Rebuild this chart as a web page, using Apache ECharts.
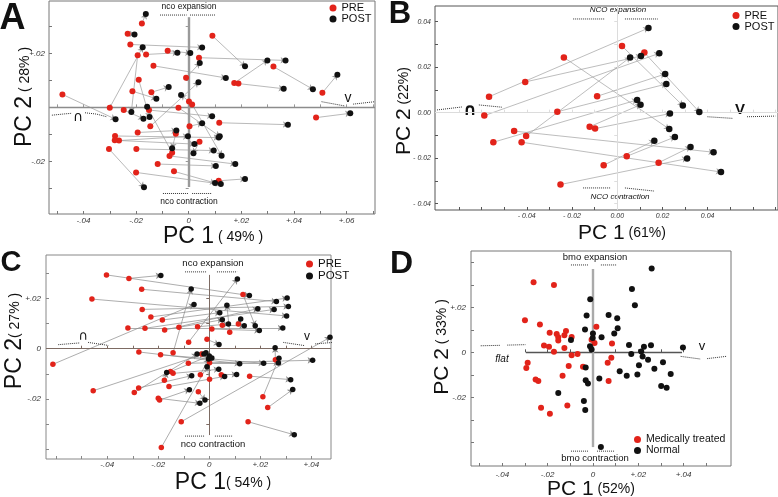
<!DOCTYPE html>
<html><head><meta charset="utf-8">
<script src="https://cdn.jsdelivr.net/npm/echarts@6/dist/echarts.min.js"></script>
<style>html,body{margin:0;padding:0;background:#fff}#c{width:778px;height:497px}</style>
</head><body><div id="c"></div>
<script>
const FONT = "'Liberation Sans', Arial, Helvetica, sans-serif";
const RED = '#e2231a', BLACK = '#111111';

// ---------- Panel A (PC1 49%, PC2 28%) ----------
const preA = [[-0.0480,0.0048],[0.0090,0.0265],[-0.0222,0.0233],[-0.0162,0.0196],[-0.0080,0.0210],[0.0039,0.0184],[0.0173,0.0090],[0.0189,0.0088],[-0.0134,0.0154],[0.0322,0.0151],[0.0508,0.0054],[0.0484,-0.0038],[0.0116,-0.0057],[-0.0142,0.0056],[-0.0010,0.0110],[0.0013,0.0011],[-0.0300,-0.0001],[-0.0247,-0.0010],[-0.0151,-0.0010],[-0.0039,-0.0001],[0.0003,-0.0070],[-0.0194,-0.0093],[-0.0280,-0.0106],[-0.0265,-0.0123],[-0.0281,-0.0122],[-0.0049,-0.0098],[0.0041,-0.0127],[-0.0199,-0.0154],[-0.0303,-0.0154],[-0.0073,-0.0180],[-0.0118,-0.0210],[-0.0056,-0.0237],[0.0114,-0.0272],[-0.0200,-0.0241],[-0.0178,0.0311],[-0.0232,0.0273],[-0.0194,0.0193],[-0.0190,0.0102],[-0.0214,0.0060],[0.0001,0.0022],[-0.0146,-0.0070],[-0.0063,-0.0168]];
const postA = [[-0.0278,-0.0044],[0.0214,0.0152],[0.0051,0.0222],[-0.0043,0.0202],[0.0006,0.0201],[0.0368,0.0174],[0.0299,0.0174],[0.0361,0.0069],[0.0141,0.0109],[0.0472,0.0067],[0.0565,0.0121],[0.0614,-0.0022],[0.0377,-0.0064],[-0.0076,0.0075],[0.0042,0.0164],[0.0125,-0.0179],[-0.0175,0.0223],[-0.0172,-0.0042],[0.0089,-0.0033],[0.0118,-0.0107],[0.0051,-0.0059],[-0.0047,-0.0086],[0.0114,-0.0112],[-0.0003,-0.0107],[0.0022,-0.0136],[-0.0063,-0.0151],[0.0018,-0.0170],[0.0095,-0.0160],[-0.0170,-0.0296],[0.0177,-0.0210],[0.0103,-0.0217],[0.0100,-0.0280],[0.0214,-0.0265],[0.0122,-0.0284],[-0.0163,0.0346],[-0.0206,0.0270],[-0.0218,-0.0017],[-0.0149,-0.0036],[-0.0123,0.0032],[-0.0029,0.0046],[0.0037,0.0093],[-0.0158,0.0002]];
const xLabValsA = [-0.04,-0.02,0,0.02,0.04,0.06];
const xLabA = ['-.04','-.02','0','+.02','+.04','+.06'];
const yLabValsA = [-0.02,0.02];
const yLabA = ['-.02','+.02'];
const xTicksA = [-0.05,-0.04,-0.03,-0.02,-0.01,0,0.01,0.02,0.03,0.04,0.05,0.06,0.07];
const yTicksA = [-0.03,-0.02,-0.01,0,0.01,0.02,0.03];
const decoA = [
  [[-0.0109,0.0342],[-0.0008,0.0342]], [[0.0005,0.0342],[0.0100,0.0342]],
  [[-0.0098,-0.0319],[-0.0003,-0.0319]], [[0.0013,-0.0319],[0.0088,-0.0319]],
  [[-0.0520,-0.0029],[-0.0470,-0.0024],[-0.0444,-0.0022]], [[-0.0394,-0.0020],[-0.0350,-0.0025],[-0.0311,-0.0035]],
  [[0.0505,0.0021],[0.0594,0.0005]], [[0.0625,0.0012],[0.0708,0.0021]]
];

// ---------- Panel B (PC1 61%, PC2 22%) ----------
const preB = [[-0.0567,0.0070],[-0.0407,0.0135],[-0.0588,-0.0013],[-0.0265,0.0004],[-0.0089,0.0072],[-0.0403,-0.0103],[-0.0236,0.0243],[0.0021,0.0293],[0.0120,0.0264],[-0.0548,-0.0130],[-0.0122,-0.0062],[-0.0098,-0.0070],[-0.0456,-0.0081],[-0.0423,-0.0130],[-0.0060,-0.0231],[0.0042,-0.0192],[-0.0251,-0.0316],[0.0183,-0.0220]];
const postB = [[0.0138,0.0372],[0.0105,0.0249],[0.0186,0.0261],[0.0217,0.0126],[0.0212,0.0170],[0.0057,0.0243],[0.0230,-0.0072],[0.0290,0.0031],[0.0363,0.0003],[0.0088,0.0056],[0.0103,0.0035],[0.0233,-0.0004],[0.0426,-0.0174],[0.0459,-0.0261],[0.0164,-0.0123],[0.0255,-0.0107],[0.0309,-0.0202],[0.0324,-0.0151]];
const xLabValsB = [-0.04,-0.02,0,0.02,0.04];
const xLabB = ['- 0.04','- 0.02','0.00','0.02','0.04'];
const yLabValsB = [-0.04,-0.02,0,0.02,0.04];
const yLabB = ['- 0.04','- 0.02','0.00','0.02','0.04'];
const xTicksB = [-0.07,-0.06,-0.05,-0.04,-0.03,-0.02,-0.01,0,0.01,0.02,0.03,0.04,0.05,0.06,0.07];
const yTicksB = [-0.04,-0.03,-0.02,-0.01,0,0.01,0.02,0.03,0.04];
const decoB = [
  [[-0.0195,0.0412],[-0.0054,0.0412]], [[0.0034,0.0412],[0.0179,0.0412]],
  [[-0.0151,-0.0331],[-0.0028,-0.0331]], [[0.0034,-0.0331],[0.0166,-0.0345]],
  [[-0.0797,0.0012],[-0.0687,0.0025]], [[-0.0612,0.0034],[-0.0510,0.0024]],
  [[0.0399,-0.0018],[0.0509,-0.0025]], [[0.0574,-0.0018],[0.0699,-0.0015]]
];

// ---------- Panel C (PC1 54%, PC2 27%) ----------
const preC = [[-0.0403,0.0293],[-0.0315,0.0279],[-0.0265,0.0236],[-0.0460,0.0197],[-0.0263,0.0156],[-0.0229,0.0126],[-0.0184,0.0114],[-0.0319,0.0082],[-0.0252,0.0081],[-0.0175,0.0074],[-0.0119,0.0085],[-0.0046,0.0087],[0.0010,0.0078],[0.0051,0.0093],[0.0114,0.0098],[0.0080,0.0065],[0.0132,0.0215],[-0.0081,0.0026],[-0.0009,0.0037],[-0.0613,-0.0062],[-0.0276,-0.0013],[-0.0191,-0.0024],[-0.0142,-0.0016],[-0.0082,-0.0058],[-0.0030,-0.0021],[0.0001,-0.0056],[-0.0152,-0.0091],[-0.0142,-0.0098],[-0.0176,-0.0125],[-0.0158,-0.0150],[-0.0277,-0.0156],[-0.0294,-0.0174],[-0.0455,-0.0167],[-0.0035,-0.0103],[-0.0043,-0.0171],[0.0001,-0.0121],[-0.0200,-0.0197],[-0.0195,-0.0204],[-0.0110,-0.0290],[-0.0188,-0.0392],[0.0047,-0.0103],[0.0158,-0.0109],[0.0210,-0.0191],[0.0229,-0.0234],[0.0152,-0.0290],[0.0259,-0.0044]];
const postC = [[0.0157,0.0211],[-0.0190,0.0291],[0.0263,0.0187],[0.0303,0.0130],[0.0310,0.0168],[0.0305,0.0201],[0.0041,0.0143],[0.0288,0.0082],[0.0254,0.0156],[0.0190,0.0159],[0.0051,0.0115],[0.0075,0.0098],[0.0196,0.0072],[0.0137,0.0091],[0.0123,0.0118],[0.0069,0.0172],[0.0180,0.0091],[0.0110,0.0277],[0.0038,0.0017],[-0.0060,0.0175],[0.0119,-0.0060],[0.0213,-0.0058],[-0.0071,0.0237],[0.0405,-0.0046],[-0.0013,-0.0016],[0.0271,-0.0057],[0.0000,-0.0029],[0.0037,-0.0082],[-0.0167,-0.0095],[0.0060,-0.0110],[-0.0069,-0.0107],[-0.0048,-0.0021],[-0.0021,-0.0021],[-0.0003,-0.0041],[-0.0017,-0.0204],[-0.0009,-0.0072],[-0.0037,-0.0217],[-0.0078,-0.0163],[0.0473,0.0045],[0.0010,-0.0037],[0.0107,-0.0102],[0.0319,-0.0123],[0.0273,-0.0038],[0.0327,-0.0162],[0.0333,-0.0342],[0.0258,0.0004]];
const xLabValsC = [-0.04,-0.02,0,0.02,0.04];
const xLabC = ['-.04','-.02','0','+.02','+.04'];
const yLabValsC = [-0.02,0,0.02];
const yLabC = ['-.02','0','+.02'];
const xTicksC = [-0.06,-0.05,-0.04,-0.03,-0.02,-0.01,0,0.01,0.02,0.03,0.04];
const yTicksC = [-0.04,-0.03,-0.02,-0.01,0,0.01,0.02,0.03];
const decoC = [
  [[-0.0095,0.0305],[-0.0009,0.0305]], [[0.0030,0.0305],[0.0109,0.0305]],
  [[-0.0095,-0.0347],[-0.0017,-0.0347]], [[0.0022,-0.0347],[0.0093,-0.0347]],
  [[-0.0592,0.0016],[-0.0507,0.0023]], [[-0.0475,0.0025],[-0.0396,0.0013]],
  [[0.0290,0.0025],[0.0375,0.0012]], [[0.0415,0.0019],[0.0486,0.0025]]
];

// ---------- Panel D (PC1 52%, PC2 33%) ----------
const medicalD = [[-0.0262,0.0311],[-0.0172,0.0299],[-0.0300,0.0142],[-0.0234,0.0124],[-0.0191,0.0087],[-0.0160,0.0081],[-0.0153,0.0067],[-0.0153,0.0053],[-0.0119,0.0095],[-0.0126,0.0076],[-0.0094,0.0068],[-0.0216,0.0030],[-0.0194,0.0025],[-0.0126,0.0019],[-0.0172,0.0003],[-0.0068,-0.0007],[-0.0094,-0.0013],[0.0015,0.0113],[-0.0006,0.0056],[0.0007,0.0041],[0.0084,0.0039],[0.0081,-0.0024],[0.0065,-0.0046],[-0.0288,-0.0046],[-0.0294,-0.0070],[-0.0107,-0.0061],[-0.0044,-0.0064],[-0.0134,-0.0104],[-0.0253,-0.0121],[-0.0241,-0.0127],[0.0069,-0.0127],[-0.0113,-0.0236],[-0.0229,-0.0246],[-0.0190,-0.0273]];
const normalD = [[0.0259,0.0372],[0.0172,0.0281],[0.0185,0.0209],[-0.0012,0.0236],[-0.0028,0.0163],[0.0069,0.0166],[0.0107,0.0151],[0.0109,0.0107],[-0.0035,0.0101],[0.0000,0.0084],[0.0094,0.0083],[-0.0097,0.0055],[-0.0001,0.0064],[0.0038,0.0067],[-0.0013,0.0027],[-0.0006,0.0012],[0.0159,0.0033],[0.0169,-0.0007],[0.0225,0.0025],[0.0213,0.0004],[0.0256,0.0031],[0.0397,0.0021],[0.0219,-0.0019],[0.0243,-0.0033],[0.0309,-0.0044],[0.0203,-0.0058],[0.0271,-0.0073],[0.0343,-0.0096],[0.0118,-0.0084],[0.0149,-0.0104],[0.0196,-0.0099],[0.0028,-0.0116],[-0.0032,-0.0067],[-0.0032,-0.0124],[-0.0022,-0.0139],[0.0301,-0.0150],[0.0325,-0.0157],[-0.0153,-0.0181],[-0.0040,-0.0216],[-0.0034,-0.0256],[0.0035,-0.0421]];
const xLabValsD = [-0.04,-0.02,0,0.02,0.04];
const xLabD = ['-.04','-.02','0','+.02','+.04'];
const yLabValsD = [-0.02,0,0.02];
const yLabD = ['-.02','0','+.02'];
const xTicksD = [-0.05,-0.04,-0.03,-0.02,-0.01,0,0.01,0.02,0.03,0.04,0.05];
const yTicksD = [-0.04,-0.03,-0.02,-0.01,0,0.01,0.02,0.03,0.04];
const decoD = [
  [[-0.0097,0.0388],[-0.0018,0.0388]], [[0.0035,0.0388],[0.0106,0.0388]],
  [[-0.0097,-0.0439],[-0.0018,-0.0439]], [[0.0018,-0.0439],[0.0093,-0.0439]],
  [[-0.0495,0.0029],[-0.0407,0.0031]], [[-0.0378,0.0032],[-0.0297,0.0034]],
  [[0.0387,-0.0018],[0.0475,-0.0030]], [[0.0504,-0.0028],[0.0588,-0.0018]]
];

// ---------- layout / style per panel ----------
const panels = [
  { pre: preA, post: postA, names: ['PRE','POST'], deco: decoA, arrows: true,
    grid: {left: 49, top: 1, width: 326, height: 213}, xr: [-0.0531, 0.0708], yr: [-0.0395, 0.0394],
    xT: xTicksA, yT: yTicksA, xLV: xLabValsA, xL: xLabA, yLV: yLabValsA, yL: yLabA,
    lab: 8, xm: 3, ym: 4, frame: '#777', arrow: {color: '#9b9b9b', width: 0.7}, dot: 6,
    h: {color: '#8c8c8c', width: 1.3, r: null}, v: {color: '#9a9a9a', width: 2.4, r: [0.0334, -0.0295]},
    cx: xTicksA.filter(t => t !== 0), cy: yTicksA.filter(t => t !== 0), ct: '#999' },
  { pre: preB, post: postB, names: ['PRE','POST'], deco: decoB, arrows: true,
    grid: {left: 435, top: 6, width: 345, height: 204}, xr: [-0.0806, 0.0711], yr: [-0.0428, 0.0469],
    xT: xTicksB, yT: yTicksB, xLV: xLabValsB, xL: xLabB, yLV: yLabValsB, yL: yLabB,
    lab: 7, xm: 3, ym: 4, frame: '#555', arrow: {color: '#a0a0a0', width: 0.7}, dot: 6.5,
    h: {color: '#dcdcdc', width: 1, r: null}, v: {color: '#dcdcdc', width: 1, r: null},
    cx: xTicksB.filter(t => t !== 0), cy: yTicksB.filter(t => t !== 0), ct: '#ddd' },
  { pre: preC, post: postC, names: ['PRE','POST'], deco: decoC, arrows: true,
    grid: {left: 46, top: 255, width: 285, height: 204}, xr: [-0.0640, 0.0477], yr: [-0.0438, 0.0372],
    xT: xTicksC, yT: yTicksC, xLV: xLabValsC, xL: xLabC, yLV: yLabValsC, yL: yLabC,
    lab: 8, xm: 2, ym: 5, frame: '#888', arrow: {color: '#8a8a8a', width: 0.7}, dot: 5.5,
    h: {color: '#7d6b63', width: 1, r: null}, v: {color: '#7d6b63', width: 1, r: [0.0293, -0.0343]},
    cx: [-0.05,-0.04,-0.03,-0.02,-0.01,0.01,0.02,0.03,0.04], cy: [-0.03,-0.02,-0.01,0.01,0.02], ct: '#7d6b63' },
  { pre: medicalD, post: normalD, names: ['Medically treated','Normal'], deco: decoD, arrows: false,
    grid: {left: 471, top: 251, width: 260, height: 215}, xr: [-0.0538, 0.0609], yr: [-0.0505, 0.0450],
    xT: xTicksD, yT: yTicksD, xLV: xLabValsD, xL: xLabD, yLV: yLabValsD, yL: yLabD,
    lab: 8, xm: 5, ym: 5, frame: '#777', arrow: null, dot: 6,
    h: {color: '#555', width: 1.4, r: [-0.0296, 0.0393]}, v: {color: '#aaa', width: 2.4, r: [0.0370, -0.0421]},
    cx: [-0.03,-0.02,-0.01,0.01,0.02,0.03,0.04], cy: [], ct: '#555' }
];

function lookup(vals, labs) {
  return function (v) {
    let b = 0;
    for (let k = 1; k < vals.length; k++) if (Math.abs(vals[k] - v) < Math.abs(vals[b] - v)) b = k;
    return labs[b];
  };
}

const grid = [], xAxis = [], yAxis = [], series = [];
panels.forEach((p, i) => {
  grid.push(Object.assign({}, p.grid, {show: true, borderColor: p.frame, borderWidth: 1, backgroundColor: 'transparent', containLabel: false}));
  const labStyle = {fontSize: p.lab, fontStyle: 'italic', color: '#333', fontFamily: FONT};
  // main axes (frame ticks + labels)
  xAxis.push({type: 'value', gridIndex: i, min: p.xr[0], max: p.xr[1], position: 'bottom', splitLine: {show: false},
    axisLine: {show: false, onZero: false},
    axisTick: {show: true, inside: true, length: 3, customValues: p.xT, lineStyle: {color: p.frame}},
    axisLabel: Object.assign({customValues: p.xLV, formatter: lookup(p.xLV, p.xL), margin: p.xm}, labStyle)});
  // centre axis (ticks along y = 0)
  xAxis.push({type: 'value', gridIndex: i, min: p.xr[0], max: p.xr[1], position: 'bottom', splitLine: {show: false},
    axisLine: {show: false, onZero: true}, axisLabel: {show: false},
    axisTick: {show: p.cx.length > 0, inside: true, length: 3, customValues: p.cx, lineStyle: {color: p.ct}}});
  yAxis.push({type: 'value', gridIndex: i, min: p.yr[0], max: p.yr[1], position: 'left', splitLine: {show: false},
    axisLine: {show: false, onZero: false},
    axisTick: {show: true, inside: true, length: 3, customValues: p.yT, lineStyle: {color: p.frame}},
    axisLabel: Object.assign({customValues: p.yLV, formatter: lookup(p.yLV, p.yL), margin: p.ym}, labStyle)});
  yAxis.push({type: 'value', gridIndex: i, min: p.yr[0], max: p.yr[1], position: 'left', splitLine: {show: false},
    axisLine: {show: false, onZero: true}, axisLabel: {show: false},
    axisTick: {show: p.cy.length > 0, inside: false, length: 3, customValues: p.cy.length ? p.cy : [0], lineStyle: {color: p.ct}}});
  const xi = 2 * i, yi = 2 * i;

  if (p.arrows) {
    series.push({type: 'lines', coordinateSystem: 'cartesian2d', xAxisIndex: xi, yAxisIndex: yi, silent: true, z: 1,
      symbol: ['none', 'arrow'], symbolSize: 5,
      lineStyle: {color: p.arrow.color, width: p.arrow.width, opacity: 1, curveness: 0},
      data: p.pre.map((a, k) => ({coords: [a, p.post[k]]}))});
  }
  series.push({type: 'lines', coordinateSystem: 'cartesian2d', xAxisIndex: xi, yAxisIndex: yi, polyline: true, silent: true, z: 2,
    lineStyle: {type: 'dotted', color: '#333', width: 1, opacity: 1},
    data: p.deco.map(c => ({coords: c}))});

  const ml = [];
  const hs = {type: 'solid', color: p.h.color, width: p.h.width};
  const vs = {type: 'solid', color: p.v.color, width: p.v.width};
  if (p.h.r) ml.push([{coord: [p.h.r[0], 0], lineStyle: hs}, {coord: [p.h.r[1], 0]}]); else ml.push({yAxis: 0, lineStyle: hs});
  if (p.v.r) ml.push([{coord: [0, p.v.r[0]], lineStyle: vs}, {coord: [0, p.v.r[1]]}]); else ml.push({xAxis: 0, lineStyle: vs});

  series.push({type: 'scatter', name: p.names[0], xAxisIndex: xi, yAxisIndex: yi, data: p.pre, symbol: 'circle', symbolSize: p.dot,
    itemStyle: {color: RED, opacity: 1}, z: 4,
    markLine: {silent: true, symbol: ['none', 'none'], label: {show: false}, z: 2, lineStyle: {type: 'solid'}, data: ml}});
  series.push({type: 'scatter', name: p.names[1], xAxisIndex: xi, yAxisIndex: yi, data: p.post, symbol: 'circle', symbolSize: p.dot,
    itemStyle: {color: BLACK, opacity: 1}, z: 5});
});

function legendAt(names, left, top, size, lh) {
  return {data: names, orient: 'vertical', left: left, top: top, padding: 0, itemWidth: 7, itemHeight: 7, itemGap: 0,
    icon: 'circle', selectedMode: false, textStyle: {fontSize: size, lineHeight: lh, color: '#111', fontFamily: FONT}};
}

function txt(t, x, y, size, opts) {
  opts = opts || {};
  return {type: 'text', x: x, y: y, silent: true, rotation: opts.rot || 0,
    style: {text: t, fontSize: size, fontFamily: opts.family || FONT, fontWeight: opts.bold ? 'bold' : 'normal',
      fontStyle: opts.italic ? 'italic' : 'normal', fill: '#111', align: 'center', verticalAlign: 'middle'}};
}
function title(main, pct, x, y, big, small, rot) {
  return {type: 'text', x: x, y: y, silent: true, rotation: rot ? Math.PI / 2 : 0,
    style: {text: '{a|' + main + '}{b|' + pct + '}', align: 'center', verticalAlign: 'middle', fill: '#111',
      rich: {a: {fontSize: big, fontFamily: FONT, fill: '#111'}, b: {fontSize: small, fontFamily: FONT, fill: '#111'}}}};
}
const SYM = "'DejaVu Sans', sans-serif";
const graphic = [
  txt('A', 12.5, 19, 36, {bold: true}),
  txt('nco expansion', 189, 7, 8.5),
  txt('nco contraction', 189, 202, 8.5),
  txt('\u2229', 78, 117, 14, {family: SYM}),
  txt('v', 348, 98, 14),
  title('PC 1', ' ( 49% )', 213, 237, 23, 14, false),
  title('PC 2', ' ( 28% )', 25, 97, 23, 14, true),

  txt('B', 400, 14, 31, {bold: true}),
  txt('NCO expansion', 618, 10, 8, {italic: true}),
  txt('NCO contraction', 620, 197, 8, {italic: true}),
  txt('\u2229', 470, 111, 17, {bold: true, family: SYM}),
  txt('V', 740, 110, 15, {bold: true}),
  title('PC 1', ' (61%)', 622, 233, 21, 14, false),
  title('PC 2', ' (22%)', 404, 111, 21, 14, true),

  txt('C', 11, 263, 29, {bold: true}),
  txt('nco expansion', 213, 263, 9.5),
  txt('nco contraction', 213, 444, 9.5),
  txt('\u2229', 83, 337, 13, {family: SYM}),
  txt('v', 307, 337, 12),
  title('PC 1', '( 54% )', 223, 483, 23, 14, false),
  title('PC 2', '( 27% )', 15, 341, 23, 14, true),

  txt('D', 401.5, 264.5, 32, {bold: true}),
  txt('bmo expansion', 595, 257, 9.5),
  txt('bmo contraction', 595, 458, 9.5),
  txt('flat', 502, 359, 10, {italic: true}),
  txt('v', 702, 346, 13),
  title('PC 1', ' (52%)', 591, 489, 21, 14, false),
  title('PC 2', ' ( 33% )', 442, 347, 21, 14, true)
];

const chart = echarts.init(document.getElementById('c'), null, {renderer: 'canvas'});
chart.setOption({
  animation: false,
  backgroundColor: '#fff',
  grid: grid, xAxis: xAxis, yAxis: yAxis, series: series,
  legend: [
    legendAt(['PRE', 'POST'], 329.5, 2.5, 11, 11),
    legendAt(['PRE', 'POST'], 732.5, 10, 11, 10),
    legendAt(['PRE', 'POST'], 306, 258, 11.5, 10),
    legendAt(['Medically treated', 'Normal'], 634, 434, 10.5, 10)
  ],
  graphic: graphic
});
</script></body></html>
